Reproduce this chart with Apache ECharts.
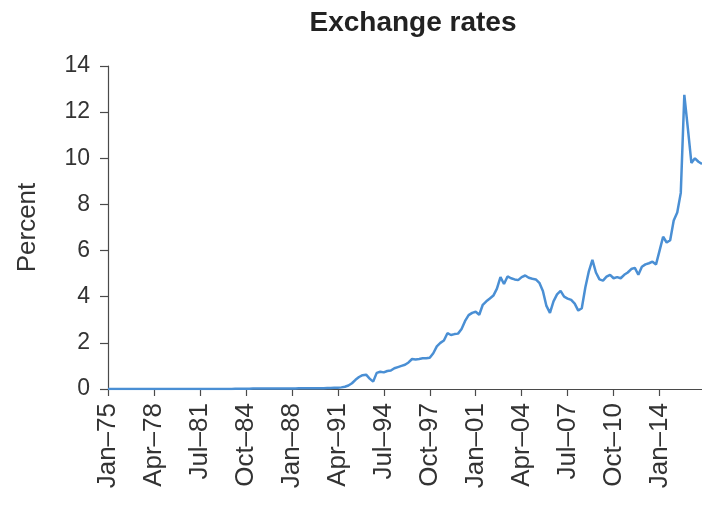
<!DOCTYPE html>
<html>
<head>
<meta charset="utf-8">
<title>Exchange rates</title>
<script src="https://cdn.jsdelivr.net/npm/echarts@6/dist/echarts.min.js"></script>
<style>
  html, body { margin: 0; padding: 0; background: #fff; }
  #chart { width: 702px; height: 505px; }
</style>
</head>
<body>
<div id="chart"></div>
<script>
// Quarterly series, Jan-75 through Jan-17 (percent)
const startYear = 1975;
const quarterMonths = ['Jan', 'Apr', 'Jul', 'Oct'];

const rates = [
  // 1975-1983
  0, 0, 0, 0,  0, 0, 0, 0,  0, 0, 0, 0,
  0, 0, 0, 0,  0, 0, 0, 0,  0, 0, 0, 0,
  0, 0, 0, 0,  0, 0, 0, 0,  0, 0, 0, 0,
  // 1984-1989
  0.01, 0.01, 0.01, 0.01,  0.01, 0.02, 0.02, 0.02,  0.02, 0.02, 0.02, 0.02,
  0.02, 0.02, 0.02, 0.02,  0.02, 0.02, 0.03, 0.03,  0.03, 0.03, 0.03, 0.03,
  // 1990-1991
  0.03, 0.03, 0.04, 0.04,  0.05, 0.05, 0.07, 0.1,
  // 1992-1995
  0.15, 0.25, 0.4, 0.52,  0.6, 0.62, 0.45, 0.32,
  0.7, 0.75, 0.72, 0.78,  0.8, 0.9, 0.95, 1.0,
  // 1996-1999
  1.05, 1.15, 1.3, 1.28,  1.3, 1.33, 1.33, 1.35,
  1.55, 1.85, 2.0, 2.1,  2.42, 2.34, 2.38, 2.4,
  // 2000-2003
  2.6, 2.95, 3.2, 3.3,  3.35, 3.22, 3.65, 3.8,
  3.92, 4.05, 4.35, 4.85,  4.55, 4.88, 4.8, 4.75,
  // 2004-2007
  4.72, 4.85, 4.92, 4.82,  4.78, 4.75, 4.6, 4.25,
  3.6, 3.3, 3.8, 4.1,  4.25, 4.0, 3.92, 3.86,
  // 2008-2011
  3.7, 3.4, 3.5, 4.4,  5.1, 5.6, 5.05, 4.75,
  4.7, 4.87, 4.95, 4.8,  4.85, 4.8, 4.95, 5.05,
  // 2012-2015
  5.2, 5.25, 4.95, 5.3,  5.4, 5.45, 5.52, 5.4,
  6.0, 6.6, 6.35, 6.45,  7.3, 7.65, 8.5, 12.75,
  // 2016-2017
  11.3, 9.8, 10.0, 9.85,  9.75
];

const yTicks = { min: 0, max: 14, step: 2 };

// Quarter labels such as "Jan–75", "Apr–78"
const quarters = rates.map((_, i) => {
  const year = startYear + Math.floor(i / 4);
  return quarterMonths[i % 4] + '\u2013' + String(year % 100).padStart(2, '0');
});

const chart = echarts.init(document.getElementById('chart'), null, { renderer: 'canvas' });
const font = '"Liberation Sans", Arial, Helvetica, sans-serif';
const axisColor = '#4a4a4a';

chart.setOption({
  animation: false,
  backgroundColor: '#ffffff',
  title: {
    text: 'Exchange rates',
    left: 408,
    top: 4,
    textAlign: 'center',
    textStyle: { fontFamily: font, fontSize: 28, fontWeight: 'bold', color: '#222' }
  },
  grid: { left: 108, right: 0, top: 66, bottom: 116, outerBoundsMode: 'none' },
  xAxis: {
    type: 'category',
    data: quarters,
    boundaryGap: false,
    axisLine: { lineStyle: { color: axisColor, width: 1.2 } },
    axisTick: { interval: 12, length: 7, lineStyle: { color: axisColor, width: 1.2 } },
    axisLabel: {
      interval: 12,
      rotate: 90,
      margin: 14,
      fontFamily: font,
      fontSize: 26,
      color: '#333'
    },
    splitLine: { show: false }
  },
  yAxis: {
    type: 'value',
    min: yTicks.min,
    max: yTicks.max,
    interval: yTicks.step,
    name: 'Percent',
    nameLocation: 'middle',
    nameRotate: 90,
    nameGap: 67,
    nameTextStyle: { fontFamily: font, fontSize: 26, color: '#333' },
    axisLine: { show: true, lineStyle: { color: axisColor, width: 1.2 } },
    axisTick: { show: true, length: 8, lineStyle: { color: axisColor, width: 1.2 } },
    axisLabel: { margin: 18, fontFamily: font, fontSize: 23, color: '#333' },
    splitLine: { show: false }
  },
  series: [{
    type: 'line',
    data: rates,
    showSymbol: false,
    lineStyle: { color: '#4a8fd4', width: 2.5 },
    itemStyle: { color: '#4a8fd4' }
  }]
});
</script>
</body>
</html>
